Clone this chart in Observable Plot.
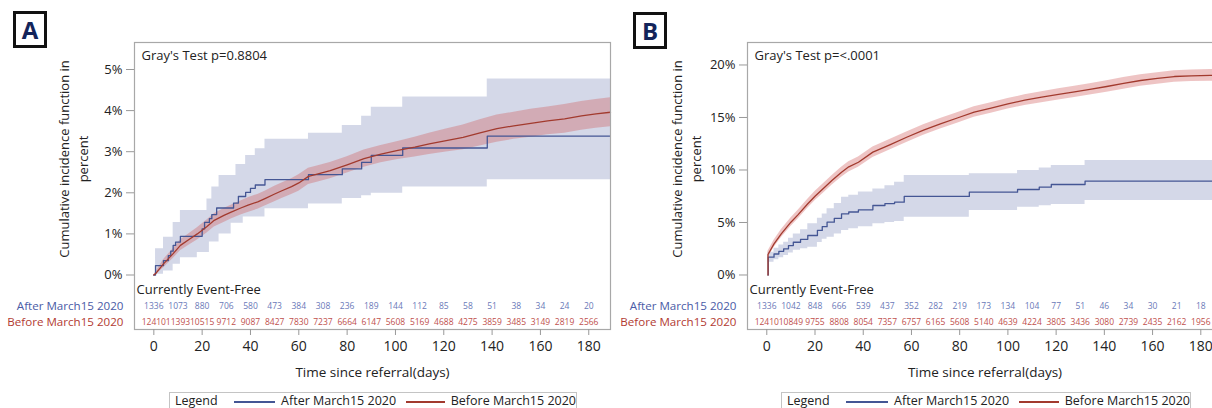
<!DOCTYPE html>
<html><head><meta charset="utf-8">
<script src="https://cdn.jsdelivr.net/npm/d3@7"></script>
<script src="https://cdn.jsdelivr.net/npm/@observablehq/plot@0.6"></script>
<style>
body{margin:0;background:#fff;font-family:"Open Sans",sans-serif;}
#root{position:relative;width:1212px;height:408px;overflow:hidden;background:#fff;}
.panel{position:absolute;top:0;width:615px;height:385px;}
.panel svg{max-width:none !important;width:615px;height:385px;}
.tag{position:absolute;width:34px;height:37px;border:3px solid #111;box-sizing:border-box;font:bold 24px "Open Sans",sans-serif;color:#13245a;display:flex;align-items:center;justify-content:center;}
.legend{position:absolute;top:392px;height:24px;border:1px solid #c4c4c4;box-sizing:border-box;font-size:12.5px;line-height:14px;color:#222;display:flex;align-items:flex-start;padding:1px 0 0 5px;white-space:nowrap;}
.legend .sw{display:inline-block;height:1.5px;margin:7px 6px 0 0;}
</style></head>
<body><div id="root"></div>
<script>
// ---------- data ----------
const groups = ["After March15 2020", "Before March15 2020"];
const xTicks = [0, 20, 40, 60, 80, 100, 120, 140, 160, 180];
const riskDays = [0, 10, 20, 30, 40, 50, 60, 70, 80, 90, 100, 110, 120, 130, 140, 150, 160, 170, 180];
const aYTicks = [0, 1, 2, 3, 4, 5];
const bYTicks = [0, 5, 10, 15, 20];

// Panel A at-risk
const aRiskAfter = [1336, 1073, 880, 706, 580, 473, 384, 308, 236, 189, 144, 112, 85, 58, 51, 38, 34, 24, 20];
const aRiskBefore = [12410, 11393, 10515, 9712, 9087, 8427, 7830, 7237, 6664, 6147, 5608, 5169, 4688, 4275, 3859, 3485, 3149, 2819, 2566];
// Panel B at-risk
const bRiskAfter = [1336, 1042, 848, 666, 539, 437, 352, 282, 219, 173, 134, 104, 77, 51, 46, 34, 30, 21, 18];
const bRiskBefore = [12410, 10849, 9755, 8808, 8054, 7357, 6757, 6165, 5608, 5140, 4639, 4224, 3805, 3436, 3080, 2739, 2435, 2162, 1956];

// Panel A, After (step curve, %)
const aAfterDay = [0, 0.7, 4, 6, 7, 8, 9, 11, 20, 21, 23, 24, 26, 33, 35, 38, 40, 42, 46, 64, 78, 86, 90, 103, 138, 189];
const aAfterCif = [0, 0.23, 0.35, 0.47, 0.58, 0.72, 0.80, 0.94, 1.12, 1.28, 1.37, 1.47, 1.63, 1.75, 1.91, 2.01, 2.11, 2.19, 2.32, 2.44, 2.58, 2.74, 2.91, 3.09, 3.38, 3.38];
const aAfterBandDay = [0, 0.7, 4, 8, 11, 18, 22, 23, 24, 27, 32, 34, 37, 38, 42, 46, 64, 78, 86, 90, 103, 138, 189];
const aAfterLo = [0, 0.02, 0.10, 0.26, 0.42, 0.55, 0.55, 0.80, 0.80, 1.00, 1.26, 1.26, 1.41, 1.41, 1.41, 1.61, 1.73, 1.86, 1.93, 1.99, 2.14, 2.32, 2.32];
const aAfterHi = [0, 0.64, 0.92, 1.28, 1.57, 1.57, 1.85, 1.85, 2.14, 2.42, 2.42, 2.69, 2.69, 2.91, 3.07, 3.30, 3.45, 3.64, 3.86, 4.08, 4.33, 4.77, 4.77];
// Panel A, Before
const aBeforeDay = [0, 1, 4, 8, 11, 15, 18, 22, 25, 29, 32, 36, 39, 43, 46, 50, 53, 57, 60, 64, 68, 73, 80, 87, 94, 101, 108, 114, 121, 128, 135, 142, 149, 156, 163, 170, 177, 183, 189];
const aBeforeCif = [0, 0.05, 0.27, 0.52, 0.72, 0.88, 1.00, 1.18, 1.33, 1.45, 1.53, 1.63, 1.70, 1.78, 1.86, 1.97, 2.05, 2.15, 2.24, 2.40, 2.46, 2.54, 2.68, 2.83, 2.94, 3.03, 3.11, 3.19, 3.27, 3.35, 3.46, 3.56, 3.63, 3.69, 3.75, 3.80, 3.87, 3.92, 3.96];
const aBeforeLo = [0, 0.01, 0.17, 0.40, 0.59, 0.74, 0.85, 1.02, 1.17, 1.28, 1.36, 1.46, 1.52, 1.60, 1.68, 1.78, 1.86, 1.96, 2.04, 2.20, 2.26, 2.34, 2.48, 2.62, 2.73, 2.81, 2.87, 2.93, 2.99, 3.05, 3.14, 3.23, 3.30, 3.35, 3.41, 3.45, 3.52, 3.57, 3.61];
const aBeforeHi = [0, 0.09, 0.37, 0.64, 0.85, 1.02, 1.15, 1.34, 1.49, 1.62, 1.70, 1.80, 1.88, 1.96, 2.04, 2.16, 2.24, 2.34, 2.44, 2.60, 2.66, 2.74, 2.88, 3.04, 3.15, 3.25, 3.35, 3.45, 3.55, 3.65, 3.78, 3.89, 3.96, 4.03, 4.09, 4.15, 4.22, 4.27, 4.31];

// Panel B, After
const bAfterDay = [0.5, 0.6, 3, 5, 7, 9, 11, 14, 17, 21, 23, 25, 28, 31, 34, 38, 44, 49, 53, 57, 84, 104, 113, 118, 132, 189];
const bAfterCif = [0, 1.70, 2.00, 2.25, 2.49, 2.80, 3.12, 3.40, 3.76, 4.24, 4.60, 5.03, 5.40, 5.83, 6.00, 6.21, 6.62, 6.80, 6.93, 7.48, 7.89, 8.14, 8.36, 8.62, 8.93, 8.93];
const bAfterLo = [0, 1.22, 1.45, 1.65, 1.86, 2.10, 2.35, 2.50, 2.65, 3.10, 3.40, 3.60, 3.90, 4.24, 4.40, 4.60, 4.87, 5.00, 5.10, 5.50, 6.14, 6.46, 6.60, 6.71, 7.10, 7.10];
const bAfterHi = [0, 2.17, 2.55, 2.85, 3.12, 3.50, 3.90, 4.30, 4.87, 5.40, 5.80, 6.30, 6.80, 7.40, 7.60, 7.90, 8.20, 8.50, 8.84, 9.48, 9.64, 9.95, 10.20, 10.43, 10.90, 10.90];
// Panel B, Before
const bBeforeDay = [0.5, 0.5, 3, 6, 10, 13, 17, 20, 24, 27, 31, 34, 38, 44, 51, 58, 65, 72, 79, 86, 93, 100, 107, 114, 121, 127, 134, 141, 148, 155, 162, 169, 176, 184, 189];
const bBeforeCif = [0, 1.95, 2.97, 3.92, 5.03, 5.75, 6.78, 7.50, 8.36, 9.00, 9.79, 10.30, 10.74, 11.70, 12.40, 13.12, 13.80, 14.40, 14.95, 15.51, 15.90, 16.30, 16.65, 16.93, 17.20, 17.41, 17.68, 17.95, 18.25, 18.52, 18.72, 18.90, 18.97, 19.00, 19.02];
const bBeforeLo = [0, 1.65, 2.62, 3.54, 4.63, 5.33, 6.35, 7.06, 7.91, 8.54, 9.32, 9.82, 10.25, 11.20, 11.90, 12.62, 13.30, 13.90, 14.45, 15.01, 15.40, 15.80, 16.14, 16.41, 16.67, 16.88, 17.14, 17.41, 17.70, 17.97, 18.17, 18.35, 18.42, 18.44, 18.46];
const bBeforeHi = [0, 2.25, 3.32, 4.30, 5.43, 6.17, 7.21, 7.94, 8.81, 9.46, 10.26, 10.78, 11.23, 12.20, 12.90, 13.62, 14.30, 14.90, 15.45, 16.01, 16.40, 16.80, 17.16, 17.45, 17.73, 17.94, 18.22, 18.49, 18.80, 19.07, 19.27, 19.45, 19.52, 19.56, 19.58];

// ---------- styling ----------
const BLUE_LINE = "#445694", BLUE_FILL = "#6F7EB3";
const RED_LINE = "#A23A2E", RED_FILL = "#D05B5B";
const BLUE_TXT = "#4a5ba6", RED_TXT = "#b23b32";

const zip = (d, ...cols) => d.map((v, i) => Object.assign({day: v}, ...cols.map(([k, arr]) => ({[k]: arr[i]}))));

function panel({width, marginLeft, yDomain, yTicks, gray, afterLine, afterBand, beforeBand, riskAfter, riskBefore}) {
  const riskA = riskDays.map((d, i) => ({day: d, n: String(riskAfter[i])}));
  const riskB = riskDays.map((d, i) => ({day: d, n: String(riskBefore[i])}));
  return Plot.plot({
    width, height: 385,
    marginLeft, marginRight: 5, marginTop: 42, marginBottom: 56,
    x: {domain: [-8, 189]},
    y: {domain: yDomain},
    style: {fontFamily: "'Open Sans', sans-serif", fontSize: "13px", color: "#222", background: "#fff"},
    marks: [
      Plot.areaY(afterBand, {x: "day", y1: "lo", y2: "hi", curve: "step-after", fill: BLUE_FILL, fillOpacity: 0.3}),
      Plot.areaY(beforeBand, {x: "day", y1: "lo", y2: "hi", curve: "linear", fill: RED_FILL, fillOpacity: 0.36}),
      Plot.lineY(afterLine, {x: "day", y: "cif", curve: "step-after", stroke: BLUE_LINE, strokeWidth: 1.3}),
      Plot.lineY(beforeBand, {x: "day", y: "cif", curve: "linear", stroke: RED_LINE, strokeWidth: 1.3}),
      Plot.frame({stroke: "#a8a8a8", strokeWidth: 1.2}),
      Plot.axisY({ticks: yTicks, tickFormat: d => d + "%", tickSize: 8, tickPadding: 4, stroke: "#999", fill: "#222", label: null, fontSize: 13}),
      Plot.axisX({ticks: xTicks, tickSize: 6, tickPadding: 6, stroke: "#999", fill: "#222", label: null, fontSize: 14}),
      Plot.text([gray], {frameAnchor: "top-left", dx: 7, dy: 13, lineAnchor: "middle", textAnchor: "start", fontSize: 13, fill: "#222"}),
      Plot.text(["Currently Event-Free"], {frameAnchor: "bottom-left", dx: 2, dy: -40, lineAnchor: "middle", textAnchor: "start", fontSize: 13, fill: "#222"}),
      Plot.text([groups[0]], {frameAnchor: "bottom-left", dx: -11, dy: -23, lineAnchor: "middle", textAnchor: "end", fontSize: 11.6, fill: BLUE_TXT}),
      Plot.text([groups[1]], {frameAnchor: "bottom-left", dx: -11, dy: -7, lineAnchor: "middle", textAnchor: "end", fontSize: 11.6, fill: RED_TXT}),
      Plot.text(riskA, {x: "day", text: "n", frameAnchor: "bottom", dy: -23, lineAnchor: "middle", textAnchor: "middle", fontSize: 8.5, fill: "#6a79b8"}),
      Plot.text(riskB, {x: "day", text: "n", frameAnchor: "bottom", dy: -7, lineAnchor: "middle", textAnchor: "middle", fontSize: 8.5, fill: "#c0504d"}),
      Plot.text(["Cumulative incidence function in\npercent"], {frameAnchor: "left", dx: -62, dy: -27, rotate: -90, textAnchor: "middle", lineAnchor: "middle", lineHeight: 1.5, fontSize: 13, fill: "#222"}),
      Plot.text(["Time since referral(days)"], {frameAnchor: "bottom", dy: 43, lineAnchor: "middle", textAnchor: "middle", fontSize: 13.5, fill: "#222"})
    ]
  });
}

function legend(left, width) {
  const d = document.createElement("div");
  d.className = "legend";
  d.style.left = left + "px";
  d.style.width = width + "px";
  d.innerHTML = `<span style="margin-right:16px">Legend</span>`
    + `<span class="sw" style="width:45px;background:${BLUE_LINE}"></span><span style="margin-right:10px">${groups[0]}</span>`
    + `<span class="sw" style="width:42px;background:${RED_LINE}"></span><span>${groups[1]}</span>`;
  return d;
}
function tag(letter, left, top) {
  const d = document.createElement("div");
  d.className = "tag"; d.textContent = letter;
  d.style.left = left + "px"; d.style.top = top + "px";
  return d;
}

const root = document.getElementById("root");
const pa = document.createElement("div"); pa.className = "panel"; pa.style.left = "0px";
pa.appendChild(panel({
  width: 615, marginLeft: 134, yDomain: [-1.326, 5.657], yTicks: aYTicks, gray: "Gray's Test p=0.8804",
  afterLine: zip(aAfterDay, ["cif", aAfterCif]),
  afterBand: zip(aAfterBandDay, ["lo", aAfterLo], ["hi", aAfterHi]),
  beforeBand: zip(aBeforeDay, ["cif", aBeforeCif], ["lo", aBeforeLo], ["hi", aBeforeHi]),
  riskAfter: aRiskAfter, riskBefore: aRiskBefore
}));
root.appendChild(pa);
const pb = document.createElement("div"); pb.className = "panel"; pb.style.left = "612px";
pb.appendChild(panel({
  width: 615, marginLeft: 135, yDomain: [-5.19, 22.14], yTicks: bYTicks, gray: "Gray's Test p=<.0001",
  afterLine: zip(bAfterDay, ["cif", bAfterCif]),
  afterBand: zip(bAfterDay, ["lo", bAfterLo], ["hi", bAfterHi]),
  beforeBand: zip(bBeforeDay, ["cif", bBeforeCif], ["lo", bBeforeLo], ["hi", bBeforeHi]),
  riskAfter: bRiskAfter, riskBefore: bRiskBefore
}));
root.appendChild(pb);
root.appendChild(legend(169, 408));
root.appendChild(legend(781, 410));
root.appendChild(tag("A", 13, 11));
root.appendChild(tag("B", 633, 12));
</script></body></html>
